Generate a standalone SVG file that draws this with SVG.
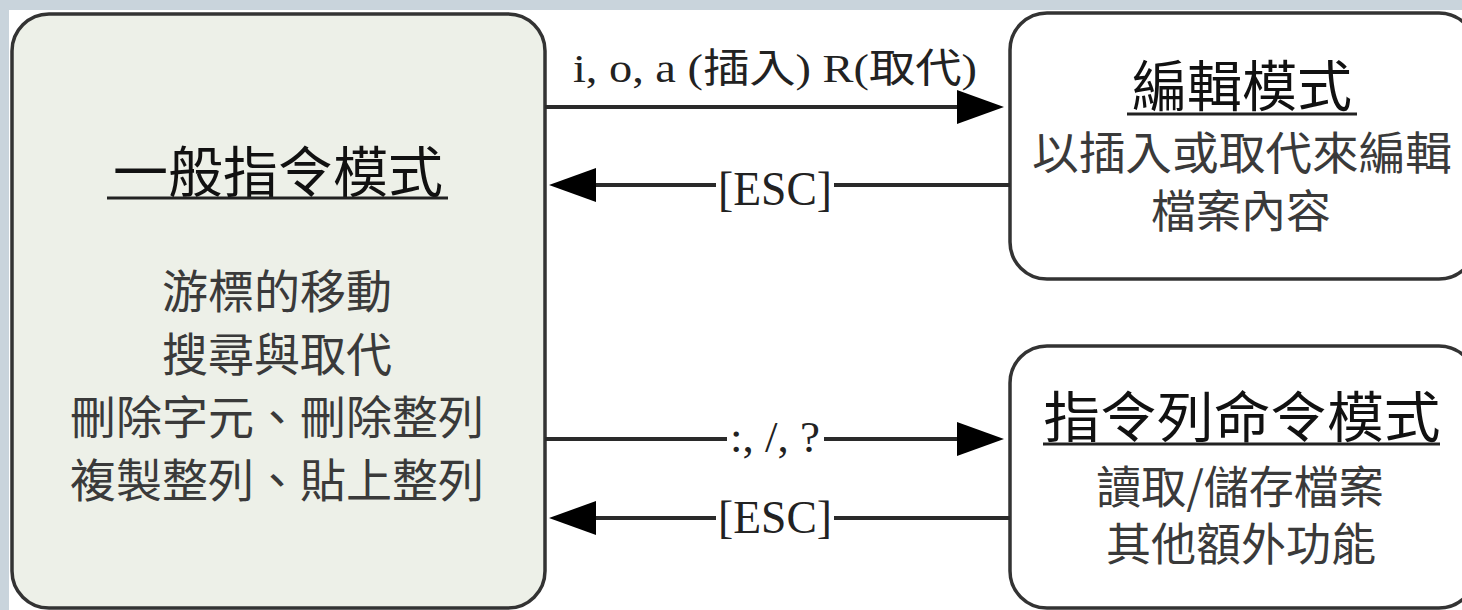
<svg xmlns="http://www.w3.org/2000/svg" width="1462" height="610" viewBox="0 0 1462 610">
  <style>
    .box { stroke: #333; stroke-width: 3.5; }
    .title { font-family: "Noto Sans CJK TC", "Noto Sans", sans-serif; font-size: 55px; fill: #111; text-anchor: middle; }
    .body { font-family: "Noto Sans CJK TC", "Noto Sans", sans-serif; font-size: 46px; fill: #3a3a3a; text-anchor: middle; }
    .sub { font-family: "Noto Sans CJK TC", "Noto Sans", sans-serif; font-size: 45px; fill: #3a3a3a; text-anchor: middle; }
    .ul { stroke: #222; stroke-width: 3; }
    .conn { stroke: #2a2a2a; stroke-width: 4; fill: none; }
    .lbl { font-family: "Liberation Serif", "Noto Sans CJK TC", serif; fill: #222; text-anchor: middle; }
  </style>
  <defs>
    <marker id="ah" markerUnits="userSpaceOnUse" markerWidth="50" markerHeight="40" viewBox="0 -20 50 40" refX="0" refY="0" orient="auto" overflow="visible">
      <path d="M0,-17 L47,0 L0,17 Z" fill="#000"/>
    </marker>
  </defs>

  <rect x="0" y="0" width="1462" height="610" fill="#c9d4dc"/>
  <rect x="9" y="10" width="1453" height="600" fill="#ffffff"/>

  <g id="node-normal">
    <rect class="box" x="12" y="14" width="533" height="594" rx="37" ry="37" fill="#edf0e8"/>
    <text class="title" x="278" y="192" font-size="56">一般指令模式</text>
    <line class="ul" x1="107" y1="198" x2="448" y2="198"/>
    <text class="body" x="277" y="308">游標的移動</text>
    <text class="body" x="277" y="371">搜尋與取代</text>
    <text class="body" x="277" y="434">刪除字元、刪除整列</text>
    <text class="body" x="277" y="497">複製整列、貼上整列</text>
  </g>

  <g id="node-edit">
    <rect class="box" x="1010" y="13" width="466" height="266" rx="37" ry="37" fill="#ffffff"/>
    <text class="title" x="1242" y="106">編輯模式</text>
    <line class="ul" x1="1127" y1="114" x2="1357" y2="114"/>
    <text class="sub" x="1242" y="170" textLength="420" lengthAdjust="spacingAndGlyphs">以插入或取代來編輯</text>
    <text class="sub" x="1241" y="228">檔案內容</text>
  </g>

  <g id="node-cmdline">
    <rect class="box" x="1010" y="346" width="466" height="262" rx="37" ry="37" fill="#ffffff"/>
    <text class="title" x="1242" y="437" textLength="397" lengthAdjust="spacingAndGlyphs">指令列命令模式</text>
    <line class="ul" x1="1043" y1="444" x2="1440" y2="444"/>
    <text class="sub" x="1240" y="504">讀取/儲存檔案</text>
    <text class="sub" x="1241" y="561">其他額外功能</text>
  </g>

  <g id="connectors">
    <line class="conn" x1="545" y1="107" x2="957" y2="107" marker-end="url(#ah)"/>
    <text class="lbl" x="775" y="82" font-size="40" textLength="404" lengthAdjust="spacingAndGlyphs">i, o, a (插入) R(取代)</text>

    <line class="conn" x1="1010" y1="185" x2="596" y2="185" marker-end="url(#ah)"/>
    <rect x="716" y="160" width="118" height="52" fill="#ffffff"/>
    <text class="lbl" x="775" y="205" font-size="48" textLength="114" lengthAdjust="spacingAndGlyphs">[ESC]</text>

    <line class="conn" x1="545" y1="439" x2="957" y2="439" marker-end="url(#ah)"/>
    <rect x="727" y="418" width="97" height="44" fill="#ffffff"/>
    <text class="lbl" x="775" y="452" font-size="44" textLength="90" lengthAdjust="spacingAndGlyphs">:, /, ?</text>

    <line class="conn" x1="1010" y1="518" x2="596" y2="518" marker-end="url(#ah)"/>
    <rect x="716" y="494" width="118" height="50" fill="#ffffff"/>
    <text class="lbl" x="775" y="533" font-size="46" textLength="114" lengthAdjust="spacingAndGlyphs">[ESC]</text>
  </g>
</svg>
